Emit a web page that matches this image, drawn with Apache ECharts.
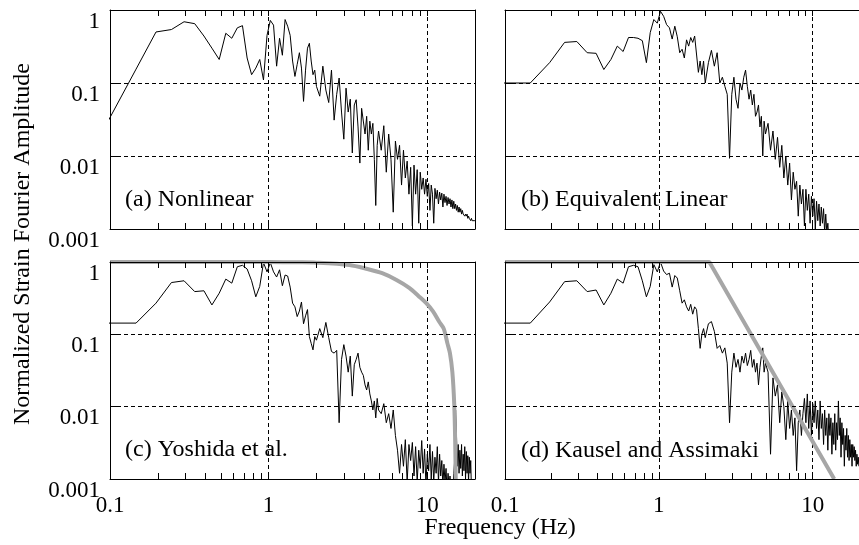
<!DOCTYPE html>
<html>
<head>
<meta charset="utf-8">
<script src="https://cdn.jsdelivr.net/npm/echarts@6/dist/echarts.min.js"></script>
<style>html,body{margin:0;padding:0;background:#fff}#chart{width:859px;height:545px}</style>
</head>
<body>
<div id="chart"></div>
<script>
// shared frequency grid (Hz)
const freqHz = [
0.098,0.146,0.195,0.244,0.293,0.342,0.391,0.439,0.488,0.537,
0.586,0.635,0.684,0.732,0.781,0.830,0.879,0.928,0.977,1.025,
1.074,1.123,1.172,1.221,1.270,1.318,1.367,1.416,1.465,1.514,
1.563,1.611,1.660,1.709,1.758,1.807,1.855,1.904,1.953,2.002,
2.100,2.197,2.295,2.393,2.490,2.588,2.686,2.783,2.881,2.979,
3.076,3.174,3.271,3.369,3.467,3.564,3.662,3.760,3.857,3.955,
4.053,4.150,4.248,4.346,4.443,4.541,4.639,4.736,4.834,4.932,
5.127,5.322,5.518,5.713,5.908,6.104,6.299,6.494,6.689,6.885,
7.080,7.275,7.471,7.666,7.861,8.057,8.252,8.447,8.643,8.838,
9.033,9.229,9.424,9.619,9.814,10.010,10.205,10.400,10.596,10.791,
10.986,11.182,11.377,11.572,11.768,11.963,12.158,12.354,12.549,12.744,
12.939,13.135,13.330,13.525,13.721,13.916,14.111,14.307,14.502,14.697,
14.893,15.088,15.283,15.479,15.674,15.869,16.064,16.260,16.455,16.650,
16.846,17.041,17.236,17.432,17.627,17.822,18.018,18.213,18.408,18.604,
18.799,18.994,19.189,19.385,19.580,19.775,19.971
];

// (a) Nonlinear
const ampNonlinear = [
0.031,0.155,0.50,0.54,0.69,0.65,0.44,0.30,0.21,0.48,
0.41,0.57,0.61,0.22,0.13,0.16,0.21,0.11,0.45,0.72,
0.62,0.17,0.41,0.24,0.74,0.60,0.45,0.20,0.123,0.18,
0.26,0.16,0.056,0.15,0.30,0.35,0.20,0.13,0.15,0.09,
0.066,0.17,0.08,0.054,0.15,0.031,0.07,0.117,0.04,0.017,
0.085,0.04,0.06,0.011,0.05,0.059,0.025,0.008,0.045,0.043,
0.02,0.035,0.012,0.03,0.02,0.028,0.009,0.0021,0.014,0.022,
0.012,0.026,0.006,0.02,0.009,0.0017,0.016,0.009,0.014,0.004,
0.012,0.005,0.0085,0.003,0.007,0.0011,0.0075,0.003,0.0065,0.0012,
0.006,0.0035,0.005,0.003,0.0048,0.0028,0.0042,0.0018,0.004,0.003,
0.0012,0.0036,0.0026,0.0034,0.0022,0.0032,0.0025,0.0031,0.002,0.003,
0.0023,0.0028,0.0021,0.0027,0.0022,0.0026,0.002,0.0025,0.0019,0.0024,
0.0019,0.0022,0.0018,0.0021,0.0017,0.002,0.0017,0.0019,0.0016,0.0018,
0.0016,0.0017,0.0015,0.0016,0.0015,0.0016,0.0014,0.0015,0.0014,0.00145,
0.0013,0.0014,0.0013,0.00135,0.0013,0.0013,0.0013
];

// (b) Equivalent Linear
const ampEquivLinear = [
0.1,0.1,0.19,0.36,0.37,0.26,0.255,0.153,0.21,0.32,
0.27,0.42,0.42,0.41,0.38,0.19,0.49,0.74,0.66,0.96,
0.82,0.63,0.57,0.40,0.60,0.43,0.26,0.29,0.22,0.39,
0.32,0.42,0.36,0.44,0.46,0.14,0.2,0.13,0.2,0.1,
0.19,0.28,0.17,0.26,0.10,0.12,0.09,0.07,0.0093,0.07,
0.12,0.06,0.045,0.10,0.08,0.12,0.15,0.09,0.06,0.08,
0.05,0.07,0.035,0.04,0.05,0.025,0.035,0.01,0.03,0.02,
0.028,0.012,0.022,0.009,0.018,0.007,0.014,0.005,0.010,0.004,
0.008,0.0025,0.006,0.0035,0.0045,0.0015,0.004,0.0022,0.0035,0.0011,
0.0035,0.0018,0.003,0.0012,0.0028,0.0015,0.0026,0.001,0.0024,0.0013,
0.0022,0.0011,0.002,0.0012,0.0019,0.0009,0.0016,0.0009,0.0012,0.0007,
0.0007,0.0005,0.0006,0.0004,0.0005,0.0004,0.0005,0.0003,0.0004,0.0003,
0.0004,0.0003,0.0003,0.0003,0.0003,0.0002,0.0003,0.0002,0.0002,0.0002,
0.0002,0.0002,0.0002,0.0002,0.0002,0.0002,0.0002,0.0002,0.0002,0.0002,
0.0002,0.0002,0.0002,0.0002,0.0002,0.0002,0.0002
];

// (c) Yoshida et al.
const ampYoshida = [
0.143,0.143,0.27,0.52,0.55,0.39,0.40,0.255,0.37,0.58,
0.51,0.86,0.90,0.80,0.55,0.33,0.46,0.98,0.73,0.98,
0.73,0.62,0.78,0.47,0.66,0.64,0.45,0.27,0.24,0.176,
0.21,0.28,0.14,0.18,0.22,0.093,0.075,0.061,0.093,0.083,
0.12,0.09,0.146,0.09,0.058,0.055,0.06,0.006,0.045,0.072,
0.05,0.03,0.05,0.014,0.038,0.045,0.055,0.035,0.03,0.027,
0.02,0.017,0.022,0.015,0.012,0.009,0.012,0.007,0.013,0.009,
0.008,0.011,0.006,0.008,0.005,0.009,0.004,0.0025,0.0012,0.003,
0.0015,0.0035,0.0009,0.003,0.0018,0.0032,0.0011,0.0028,0.0009,0.0025,
0.0014,0.0034,0.0012,0.0026,0.0008,0.0022,0.0013,0.003,0.001,0.0024,
0.0009,0.002,0.0012,0.0028,0.0009,0.0022,0.0011,0.0018,0.0008,0.0016,
0.0009,0.0014,0.0007,0.0012,0.0008,0.0011,0.0007,0.001,0.0007,0.0012,
0.0018,0.009,0.004,0.0015,0.003,0.0012,0.0025,0.0014,0.003,0.0011,
0.0022,0.0013,0.0028,0.001,0.0024,0.0012,0.0021,0.0009,0.002,0.0012,
0.0018,0.0007,0.0006,0.0005,0.0005,0.0004,0.0004
];

// (d) Kausel and Assimaki
const ampKausel = [
0.143,0.143,0.28,0.535,0.55,0.39,0.41,0.255,0.37,0.58,
0.51,0.86,0.90,0.86,0.55,0.33,0.46,0.92,0.73,1.0,
0.75,0.67,0.70,0.45,0.65,0.60,0.40,0.27,0.30,0.24,
0.21,0.26,0.19,0.24,0.22,0.12,0.064,0.10,0.12,0.09,
0.14,0.15,0.11,0.064,0.07,0.055,0.065,0.04,0.006,0.03,
0.055,0.035,0.045,0.03,0.05,0.04,0.055,0.037,0.045,0.06,
0.035,0.045,0.03,0.04,0.02,0.035,0.05,0.065,0.03,0.04,
0.03,0.0022,0.025,0.014,0.02,0.006,0.016,0.01,0.0035,0.012,
0.005,0.009,0.004,0.007,0.0013,0.006,0.009,0.004,0.008,0.013,
0.006,0.015,0.005,0.012,0.004,0.011,0.006,0.012,0.005,0.009,
0.0035,0.012,0.005,0.008,0.003,0.009,0.004,0.007,0.0025,0.008,
0.004,0.007,0.0022,0.006,0.003,0.008,0.0025,0.006,0.0035,0.012,
0.004,0.007,0.002,0.006,0.003,0.005,0.0015,0.004,0.0025,0.005,
0.002,0.004,0.0018,0.0035,0.002,0.003,0.0015,0.003,0.002,0.0028,
0.0018,0.0025,0.0015,0.0022,0.0016,0.002,0.0015
];

// gray filter curves
const yoshidaFreq   = [0.1, 1.0, 1.5, 2.0, 3.23, 4.2, 5.2, 6.4, 7.7, 8.8, 9.86, 10.9, 11.9, 12.7, 13.4, 13.9, 14.4, 14.8, 15.0, 15.12];
const yoshidaFilter = [1.0, 1.0, 0.99, 0.98, 0.91, 0.80, 0.70, 0.565, 0.44, 0.34, 0.27, 0.206, 0.149, 0.12, 0.075, 0.055, 0.030, 0.0107, 0.0033, 0.001];
const kauselFreq    = [0.1, 2.13, 13.8];
const kauselFilter  = [1.0, 1.0, 0.001];

// axis ticks / labels
const xMinorTicks = [0.1,0.2,0.3,0.4,0.5,0.6,0.7,0.8,0.9,1,2,3,4,5,6,7,8,9,10,20];
const xTickLabels = [0.1, 1, 10];
const yTickLabels = [0.001, 0.01, 0.1, 1];
const panelTitles = ['(a) Nonlinear', '(b) Equivalent Linear', '(c) Yoshida et al.', '(d) Kausel and Assimaki'];
const xTitle = 'Frequency (Hz)';
const yTitle = 'Normalized Strain Fourier Amplitude';

[ampNonlinear, ampEquivLinear, ampYoshida, ampKausel].forEach(function (a, i) {
  if (a.length !== freqHz.length) throw new Error('length mismatch panel ' + i + ': ' + a.length + ' vs ' + freqHz.length);
});

const FONT = '"Liberation Serif", "Times New Roman", serif';
const grids = [
  { left: 110, top: 10, width: 365, height: 219 },
  { left: 505, top: 10, width: 364, height: 219 },
  { left: 110, top: 262, width: 365, height: 217 },
  { left: 505, top: 262, width: 364, height: 217 }
];
const fmt = function (v) { return String(Number(Number(v).toPrecision(6))); };
const BLACK = { color: '#000', width: 1 };

const xAxes = [], yAxes = [];
grids.forEach(function (g, i) {
  const bottomRow = i >= 2, leftCol = (i % 2 === 0);
  const base = { type: 'log', logBase: 10, min: 0.1, max: 20, gridIndex: i };
  xAxes.push(Object.assign({}, base, {
    position: 'bottom', z: 5,
    axisLine: { show: true, lineStyle: BLACK },
    axisTick: { show: true, inside: true, length: 6, customValues: xMinorTicks, lineStyle: BLACK },
    axisLabel: { show: bottomRow, customValues: xTickLabels, formatter: fmt, margin: 15,
                 fontFamily: FONT, fontSize: 23, color: '#000' },
    splitLine: { show: false }
  }));
  xAxes.push(Object.assign({}, base, {
    position: 'top', z: 5,
    axisLine: { show: true, lineStyle: BLACK },
    axisTick: { show: true, inside: true, length: 6, customValues: xMinorTicks, lineStyle: BLACK },
    axisLabel: { show: false },
    splitLine: { show: false }
  }));
  xAxes.push(Object.assign({}, base, {
    position: 'bottom',
    axisLine: { show: false }, axisTick: { show: false }, axisLabel: { show: false },
    splitLine: { show: true, lineStyle: { color: '#000', width: 1, type: [4, 3] } }
  }));
  yAxes.push({
    type: 'log', logBase: 10, min: 0.001, max: 1, gridIndex: i, position: 'left', z: 5,
    axisLine: { show: true, lineStyle: BLACK },
    axisTick: { show: true, inside: true, length: 10, lineStyle: BLACK },
    axisLabel: { show: leftCol, customValues: yTickLabels, formatter: fmt, margin: 10, verticalAlign: 'top',
                 fontFamily: FONT, fontSize: 23, color: '#000' },
    splitLine: { show: true, lineStyle: { color: '#000', width: 1, type: [4, 3] } }
  });
  if (leftCol) {
    yAxes.push({
      type: 'log', logBase: 10, min: 0.001, max: 1, gridIndex: i, position: 'right', z: 5,
      axisLine: { show: true, lineStyle: BLACK },
      axisTick: { show: false }, axisLabel: { show: false }, splitLine: { show: false }
    });
  }
});
// y axis index of the main (left) axis per panel
const yMain = [0, 2, 3, 5];

function pairs(xs, ys) { return xs.map(function (x, k) { return [x, ys[k]]; }); }
const spectra = [ampNonlinear, ampEquivLinear, ampYoshida, ampKausel];
const series = spectra.map(function (amp, i) {
  return {
    type: 'line', xAxisIndex: 3 * i, yAxisIndex: yMain[i], data: pairs(freqHz, amp),
    showSymbol: false, symbol: 'none', clip: true, z: 2,
    lineStyle: { color: '#000', width: 1 }
  };
});
series.push({
  type: 'line', xAxisIndex: 6, yAxisIndex: yMain[2], data: pairs(yoshidaFreq, yoshidaFilter),
  showSymbol: false, symbol: 'none', clip: true, smooth: 0.3, z: 3,
  lineStyle: { color: '#a6a6a6', width: 4 }
});
series.push({
  type: 'line', xAxisIndex: 9, yAxisIndex: yMain[3], data: pairs(kauselFreq, kauselFilter),
  showSymbol: false, symbol: 'none', clip: true, z: 3,
  lineStyle: { color: '#a6a6a6', width: 4 }
});

const labelPos = [[125, 200], [521, 200], [125, 450], [521, 451]];
const graphics = panelTitles.map(function (t, i) {
  return { type: 'text', x: labelPos[i][0], y: labelPos[i][1], z: 10,
    style: { text: t, font: '24px ' + FONT, fill: '#000', align: 'left', verticalAlign: 'middle',
             textAlign: 'left', textVerticalAlign: 'middle' } };
});
graphics.push({ type: 'text', x: 500, y: 528, z: 10,
  style: { text: xTitle, font: '24px ' + FONT, fill: '#000', align: 'center', verticalAlign: 'middle',
           textAlign: 'center', textVerticalAlign: 'middle' } });
graphics.push({ type: 'text', x: 23, y: 244, rotation: Math.PI / 2, z: 10,
  style: { text: yTitle, font: '24px ' + FONT, fill: '#000', align: 'center', verticalAlign: 'middle',
           textAlign: 'center', textVerticalAlign: 'middle' } });

const chart = echarts.init(document.getElementById('chart'), null, { renderer: 'canvas' });
chart.setOption({
  animation: false,
  backgroundColor: '#fff',
  grid: grids,
  xAxis: xAxes,
  yAxis: yAxes,
  series: series,
  graphic: graphics
});
</script>
</body>
</html>
